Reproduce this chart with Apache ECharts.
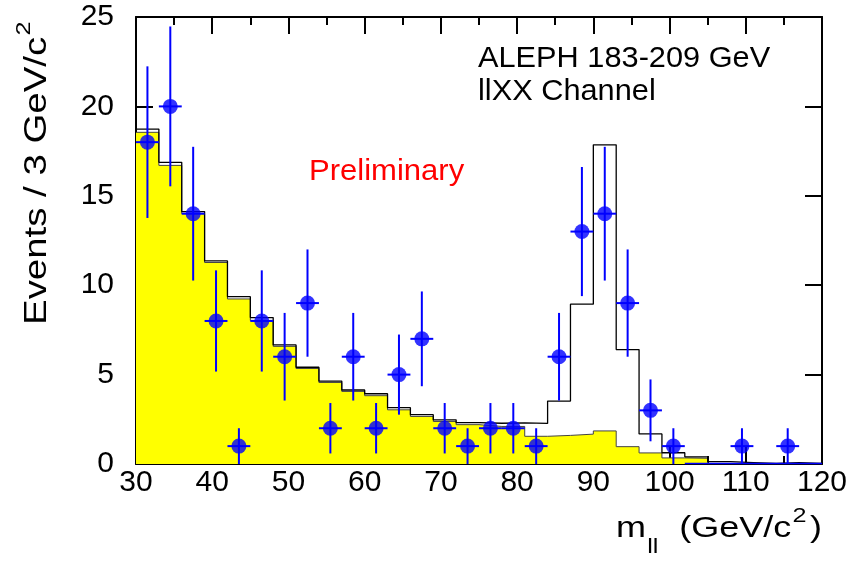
<!DOCTYPE html>
<html>
<head>
<meta charset="utf-8">
<script src="https://cdn.jsdelivr.net/npm/echarts@6/dist/echarts.min.js"></script>
<style>
  html, body { margin: 0; padding: 0; background: #ffffff; }
  #chart { width: 849px; height: 561px; }
</style>
</head>
<body>
<div id="chart"></div>
<script>
// Di-lepton invariant mass, 3 GeV bins from 30 to 120 GeV/c^2
const binLow = [30, 33, 36, 39, 42, 45, 48, 51, 54, 57, 60, 63, 66, 69, 72,
                75, 78, 81, 84, 87, 90, 93, 96, 99, 102, 105, 108, 111, 114, 117];
const binWidth = 3;

// Observed events per bin and their statistical errors
const observed = [18, 20, 14, 8, 1, 8, 6, 9, 2, 6, 2, 5, 7, 2, 1,
                  2, 2, 1, 6, 13, 14, 9, 3, 1, 0, 0, 1, 0, 1, 0];
const observedErr = [4.24, 4.47, 3.74, 2.83, 1, 2.83, 2.45, 3, 1.41, 2.45, 1.41, 2.24, 2.65, 1.41, 1,
                     1.41, 1.41, 1, 2.45, 3.61, 3.74, 3, 1.73, 1, 0, 0, 1, 0, 1, 0];

// Total expectation (open histogram, including the Z peak)
const totalExpected = [18.73, 16.87, 14.12, 11.36, 9.36, 8.19, 6.66, 5.41, 4.64, 4.14, 3.93, 3.15, 2.76, 2.47, 2.31,
                       2.28, 2.30, 2.27, 3.52, 8.94, 17.85, 6.40, 1.68, 0.63, 0.40, 0.13, 0.08, 0.03, 0.08, 0.03];
// Non-resonant background (filled histogram)
const backgroundExpected = [18.55, 16.70, 14.00, 11.27, 9.23, 8.03, 6.58, 5.34, 4.56, 4.06, 3.82, 3.03, 2.66, 2.38, 2.20,
                            2.10, 2.10, 1.55, 1.60, 1.67, 1.85, 0.97, 0.62, 0.34, 0.32, 0.02, 0.02, 0.02, 0.02, 0.02];
// Small high-mass contribution (blue histogram)
const tailExpected = [null, null, null, null, null, null, null, null, null, null, null, null, null, null, null,
                      null, null, null, null, null, null, null, null, null, 0.03, 0.03, 0.03, 0.03, 0.03, 0.03];

const xTicks = { min: 30, max: 120, step: 10 };
const yTicks = { min: 0, max: 25, step: 5 };

const FONT = "'Liberation Sans', Arial, Helvetica, sans-serif";

// Step-histogram outline: one point per lower bin edge plus the final upper edge
function stepPoints(values) {
  const pts = binLow.map((x, i) => [x, values[i]]);
  pts.push([binLow[binLow.length - 1] + binWidth, values[values.length - 1]]);
  return pts;
}

const points = [];
binLow.forEach((x, i) => {
  if (observed[i] > 0) points.push([x + binWidth / 2, observed[i], observedErr[i]]);
});

const axisCommon = {
  type: 'value',
  axisLine: { show: true, onZero: false, lineStyle: { color: '#000', width: 2 } },
  splitLine: { show: false },
};
const tickStyle = { color: '#000', width: 2 };

// Rich-text styles for raised / lowered fragments in the axis titles
const supStyle = { fontSize: 21, fontFamily: FONT, fill: '#000', lineHeight: 22, verticalAlign: 'top', padding: [6, 3, 0, 1] };
const subStyle = { fontSize: 21, fontFamily: FONT, fill: '#000', lineHeight: 22, verticalAlign: 'bottom', padding: [0, 9, 0, 1] };

const chart = echarts.init(document.getElementById('chart'));
chart.setOption({
  animation: false,
  backgroundColor: '#ffffff',
  grid: { left: 136, top: 17, right: 27, bottom: 97, outerBoundsMode: 'none' },
  xAxis: [
    Object.assign({}, axisCommon, {
      position: 'bottom', min: xTicks.min, max: xTicks.max, interval: xTicks.step,
      axisTick: { show: true, inside: true, length: 17, lineStyle: tickStyle },
      minorTick: { show: true, splitNumber: 2, length: 8, lineStyle: tickStyle },
      axisLabel: { show: true, color: '#000', fontFamily: FONT, fontSize: 30, margin: 4 }
    }),
    Object.assign({}, axisCommon, {
      position: 'top', min: xTicks.min, max: xTicks.max, interval: xTicks.step,
      axisTick: { show: true, inside: true, length: 17, lineStyle: tickStyle },
      minorTick: { show: true, splitNumber: 2, length: 8, lineStyle: tickStyle },
      axisLabel: { show: false }
    })
  ],
  yAxis: [
    Object.assign({}, axisCommon, {
      position: 'left', min: yTicks.min, max: yTicks.max, interval: yTicks.step,
      axisTick: { show: true, inside: true, length: 17, lineStyle: tickStyle },
      axisLabel: { show: true, color: '#000', fontFamily: FONT, fontSize: 30, margin: 22 }
    }),
    Object.assign({}, axisCommon, {
      position: 'right', min: yTicks.min, max: yTicks.max, interval: yTicks.step,
      axisTick: { show: true, inside: true, length: 17, lineStyle: tickStyle },
      axisLabel: { show: false }
    })
  ],
  series: [
    {
      name: 'background', type: 'line', step: 'end', symbol: 'none',
      data: stepPoints(backgroundExpected),
      lineStyle: { color: '#444', width: 1 },
      areaStyle: { color: '#ffff00', opacity: 1 },
      z: 1
    },
    {
      name: 'total', type: 'line', step: 'end', symbol: 'none',
      data: stepPoints(totalExpected),
      lineStyle: { color: '#000', width: 1.3 },
      z: 2
    },
    {
      name: 'tail', type: 'line', step: 'end', symbol: 'none', connectNulls: false,
      data: stepPoints(tailExpected),
      lineStyle: { color: '#0000ff', width: 1.5 },
      z: 3
    },
    {
      name: 'errors', type: 'custom', data: points, encode: { x: 0, y: 1 },
      renderItem: function (params, api) {
        const x = api.value(0), y = api.value(1), e = api.value(2);
        const top = api.coord([x, y + e]);
        const bot = api.coord([x, y - e]);
        const l = api.coord([x - binWidth / 2, y]);
        const r = api.coord([x + binWidth / 2, y]);
        return {
          type: 'group',
          children: [
            { type: 'line', shape: { x1: top[0], y1: top[1], x2: bot[0], y2: bot[1] },
              style: { stroke: '#0000ff', lineWidth: 2 } },
            { type: 'line', shape: { x1: l[0], y1: l[1], x2: r[0], y2: r[1] },
              style: { stroke: '#0000ff', lineWidth: 2 } }
          ]
        };
      },
      z: 4
    },
    {
      name: 'data', type: 'scatter', data: points, symbol: 'circle', symbolSize: 15,
      itemStyle: { color: '#0000ff' },
      z: 5
    }
  ],
  graphic: [
    { type: 'text', x: 478, y: 59, scaleX: 1.06,
      style: { text: 'ALEPH 183-209 GeV', font: '29px ' + FONT, fill: '#000', textVerticalAlign: 'middle' } },
    { type: 'text', x: 478, y: 92, scaleX: 1.06,
      style: { text: 'llXX Channel', font: '29px ' + FONT, fill: '#000', textVerticalAlign: 'middle' } },
    { type: 'text', x: 309, y: 172, scaleX: 1.07,
      style: { text: 'Preliminary', font: '29px ' + FONT, fill: '#ff0000', textVerticalAlign: 'middle' } },
    { type: 'text', x: 37, y: 18, rotation: Math.PI / 2, scaleX: 1.2,
      style: {
        text: 'Events / 3 GeV/c{sup|2}', font: '32px ' + FONT, fill: '#000', lineHeight: 58,
        textAlign: 'right', textVerticalAlign: 'middle',
        rich: { sup: supStyle }
      } },
    { type: 'text', x: 822, y: 529, scaleX: 1.2,
      style: {
        text: 'm{sub|ll} (GeV/c{sup|2})', font: '30px ' + FONT, fill: '#000', lineHeight: 58,
        textAlign: 'right', textVerticalAlign: 'middle',
        rich: { sub: subStyle, sup: supStyle }
      } }
  ]
});
</script>
</body>
</html>
